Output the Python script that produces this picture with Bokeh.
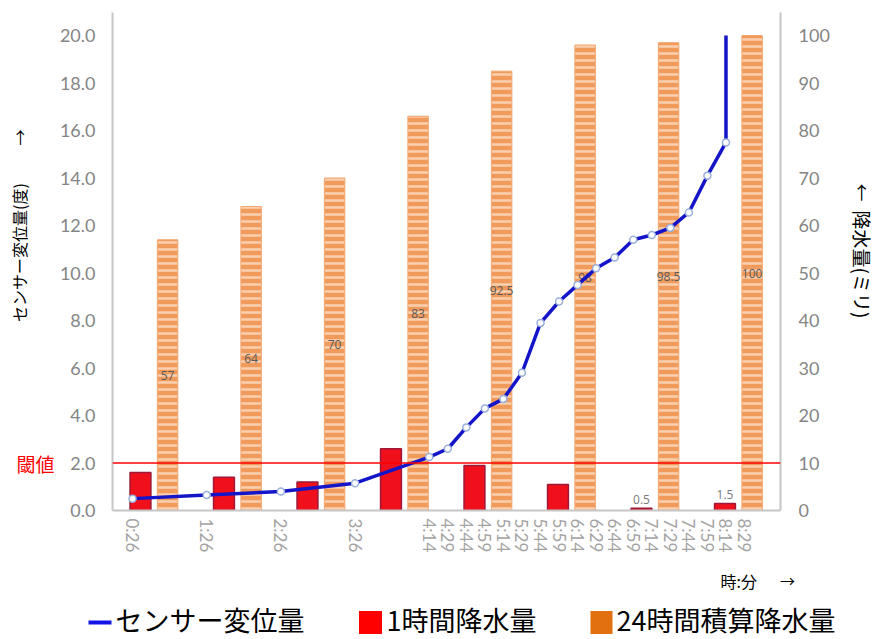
import math
from bokeh.plotting import figure
from bokeh.models import Range1d, LinearAxis, FixedTicker, Span, PrintfTickFormatter
from bokeh.layouts import column, row
from bokeh.core.properties import value
from bokeh.embed import file_html
from bokeh.resources import INLINE

# ---------------- data ----------------
# category axis of the sensor line (blank = unlabeled slot)
axis_times = ["0:26", "", "", "", "1:26", "", "", "", "2:26", "", "", "", "3:26", "", "", "",
              "4:14", "4:29", "4:44", "4:59", "5:14", "5:29", "5:44", "5:59", "6:14", "6:29",
              "6:44", "6:59", "7:14", "7:29", "7:44", "7:59", "8:14", "8:29"]
# sensor displacement (deg); last reading goes off the 20-degree scale
sensor_times = ["0:26", "1:26", "2:26", "3:26", "4:14", "4:29", "4:44", "4:59", "5:14", "5:29",
                "5:44", "5:59", "6:14", "6:29", "6:44", "6:59", "7:14", "7:29", "7:44", "7:59",
                "8:14", "8:14"]
sensor_vals = [0.5, 0.65, 0.8, 1.15, 2.25, 2.6, 3.5, 4.3, 4.7, 5.8,
               7.9, 8.8, 9.5, 10.2, 10.65, 11.4, 11.6, 11.9, 12.55, 14.1,
               15.5, 20.0]
# hourly groups of rainfall bars
rain_groups = ["1", "2", "3", "4", "5", "6", "7", "8"]
rain_1h = [8, 7, 6, 13, 9.5, 5.5, 0.5, 1.5]          # 1時間降水量 (mm)
rain_24h = [57, 64, 70, 83, 92.5, 98, 98.5, 100]     # 24時間積算降水量 (mm)
threshold = 2.0
left_ticks = [0, 2, 4, 6, 8, 10, 12, 14, 16, 18, 20]
right_ticks = [0, 10, 20, 30, 40, 50, 60, 70, 80, 90, 100]

left_title = "センサー変位量(度)"
right_title = "降水量(ミリ)"
threshold_label = "閾値"
x_title = "時:分"
legend_labels = ["センサー変位量", "1時間降水量", "24時間積算降水量"]

# ---------------- layout constants ----------------
W, H = 877, 639
TOP_H = 560
LW, RW = 55, 42
MW = W - LW - RW
FL, FR, FT, FB = 112, 780, 12, 510          # frame edges in page px
X0, X1 = -1.08, 34.94
Y1 = (FB - FT) / 23.75
R1 = (FB - FT) / 4.75
jp = "Noto Sans CJK JP"


def strip(w, h):
    f = figure(width=w, height=h, output_backend="svg", toolbar_location=None,
               x_range=Range1d(0, w), y_range=Range1d(0, h),
               x_axis_type=None, y_axis_type=None,
               min_border_left=0, min_border_right=0, min_border_top=0, min_border_bottom=0)
    f.grid.visible = False
    f.outline_line_color = None
    if "frame_align" in f.properties():
        f.frame_align = False
    return f


p = figure(width=MW, height=TOP_H, output_backend="svg", toolbar_location=None,
           x_range=Range1d(X0, X1), y_range=Range1d(0, Y1),
           x_axis_type=None, y_axis_type=None,
           min_border_left=FL - LW, min_border_right=(W - RW) - FR,
           min_border_top=FT, min_border_bottom=TOP_H - FB)
if "frame_align" in p.properties():
    p.frame_align = False
p.extra_x_ranges = {"bars": Range1d(0, len(rain_groups))}
p.extra_y_ranges = {"right": Range1d(0, R1)}
p.grid.visible = False
p.outline_line_color = None

tick_font = "Lato"
axis_col = "#c6c6c6"

la = LinearAxis(ticker=FixedTicker(ticks=left_ticks), formatter=PrintfTickFormatter(format="%.1f"))
ra = LinearAxis(y_range_name="right", ticker=FixedTicker(ticks=right_ticks))
for ax, st in ((la, 17), (ra, 18)):
    ax.major_tick_line_color = None
    ax.minor_tick_line_color = None
    ax.major_tick_out = 0
    ax.major_tick_in = 0
    ax.axis_line_color = axis_col
    ax.axis_line_width = 2
    ax.major_label_standoff = st
    ax.major_label_text_font = tick_font
    ax.major_label_text_font_size = "18px"
    ax.major_label_text_color = "#858585"
p.add_layout(la, "left")
p.add_layout(ra, "right")

tick_idx = [i for i, t in enumerate(axis_times) if t]
ba = LinearAxis(ticker=FixedTicker(ticks=tick_idx),
                major_label_overrides={i: axis_times[i] for i in tick_idx})
ba.major_tick_line_color = None
ba.minor_tick_line_color = None
ba.major_tick_out = 0
ba.major_tick_in = 0
ba.axis_line_color = axis_col
ba.axis_line_width = 2
ba.major_label_orientation = -math.pi / 2
ba.major_label_standoff = 8
ba.major_label_text_font = tick_font
ba.major_label_text_font_size = "17px"
ba.major_label_text_color = "#a3a3a3"
p.add_layout(ba, "below")

# bars
n = len(rain_groups)
x_red = [i + 0.5 - 0.165 for i in range(n)]
x_org = [i + 0.5 + 0.16 for i in range(n)]
p.vbar(x=x_org, top=rain_24h, width=0.245, x_range_name="bars", y_range_name="right",
       fill_color="#F09A5C", line_color="#F3A770", line_width=1,
       hatch_pattern="horizontal_line", hatch_color="#FBD9BE", hatch_scale=7,
       hatch_weight=2.5, hatch_alpha=0.85)
p.vbar(x=x_red, top=rain_1h, width=0.25, x_range_name="bars", y_range_name="right",
       fill_color="#F0101C", line_color="#A01838", line_width=1.5)

p.text(x=x_org, y=[v / 2 for v in rain_24h], text=[f"{v:g}" for v in rain_24h],
       x_range_name="bars", y_range_name="right",
       text_align="center", text_baseline="middle", text_font=value("Open Sans"),
       text_font_size="12px", text_color="#5a5a5a")
small = [i for i, v in enumerate(rain_1h) if v < 2]
p.text(x=[x_red[i] for i in small], y=[rain_1h[i] for i in small],
       text=[f"{rain_1h[i]:g}" for i in small], x_range_name="bars", y_range_name="right",
       text_align="center", text_baseline="bottom", y_offset=-4, text_font=value("Open Sans"),
       text_font_size="12px", text_color="#7a7a7a")

sx_idx = [axis_times.index(t) for t in sensor_times]
p.line(x=sx_idx, y=sensor_vals, line_color="#1414C8", line_width=3.5)
p.scatter(x=sx_idx[:-1], y=sensor_vals[:-1], size=7, fill_color="white",
          line_color="#9AB0DC", line_width=1.5)

p.add_layout(Span(location=threshold, dimension="width", line_color="#FF0000", line_width=1.5))

# ---------------- left strip ----------------
lf = strip(LW, TOP_H)
def ly(py):
    return TOP_H - py
thr_py = FB - threshold * 23.75
lf.text(x=[18], y=[ly(252)], text=[left_title], angle=math.pi / 2, text_align="center",
        text_baseline="middle", text_font=value(jp), text_font_size="16px", text_color="black")
lf.text(x=[18], y=[ly(137)], text=["→"], angle=math.pi / 2, text_align="center",
        text_baseline="middle", text_font=value(jp), text_font_size="16px", text_color="black")
lf.text(x=[35], y=[ly(thr_py)], text=[threshold_label], text_align="center",
        text_baseline="middle", text_font=value(jp), text_font_size="19px", text_color="#FF0000")

# ---------------- right strip ----------------
rf = strip(RW, TOP_H)
rx = 862 - (W - RW)
rf.text(x=[rx], y=[ly(264)], text=[right_title], angle=-math.pi / 2,
        text_align="center", text_baseline="middle", text_font=value(jp),
        text_font_size="19px", text_color="black")
rf.text(x=[rx], y=[ly(192)], text=["←"], angle=-math.pi / 2,
        text_align="center", text_baseline="middle", text_font=value(jp),
        text_font_size="18px", text_color="black")

# ---------------- bottom strip (x title + legend) ----------------
BH = H - TOP_H
bf = strip(W, BH)
def by(py):
    return BH - (py - TOP_H)
bf.text(x=[720], y=[by(580)], text=[x_title], text_align="left", text_baseline="middle",
        text_font=value(jp), text_font_size="16px", text_color="black")
bf.text(x=[787], y=[by(580)], text=["→"], text_align="center", text_baseline="middle",
        text_font=value(jp), text_font_size="15px", text_color="black")
bf.line(x=[88, 111], y=[by(622), by(622)], line_color="#1414E6", line_width=4)
bf.rect(x=[370], y=[by(622)], width=23, height=23, fill_color="#FF0000", line_color=None)
bf.rect(x=[601], y=[by(622)], width=22, height=23, fill_color="#E2700F", line_color=None)
bf.text(x=[115, 386, 616], y=[by(619)] * 3, text=legend_labels,
        text_align="left", text_baseline="middle", text_font=value(jp),
        text_font_size="27px", text_color="black")

layout = column(row(lf, p, rf, spacing=0), bf, spacing=0)
open("out.html", "w").write(file_html(layout, INLINE))
